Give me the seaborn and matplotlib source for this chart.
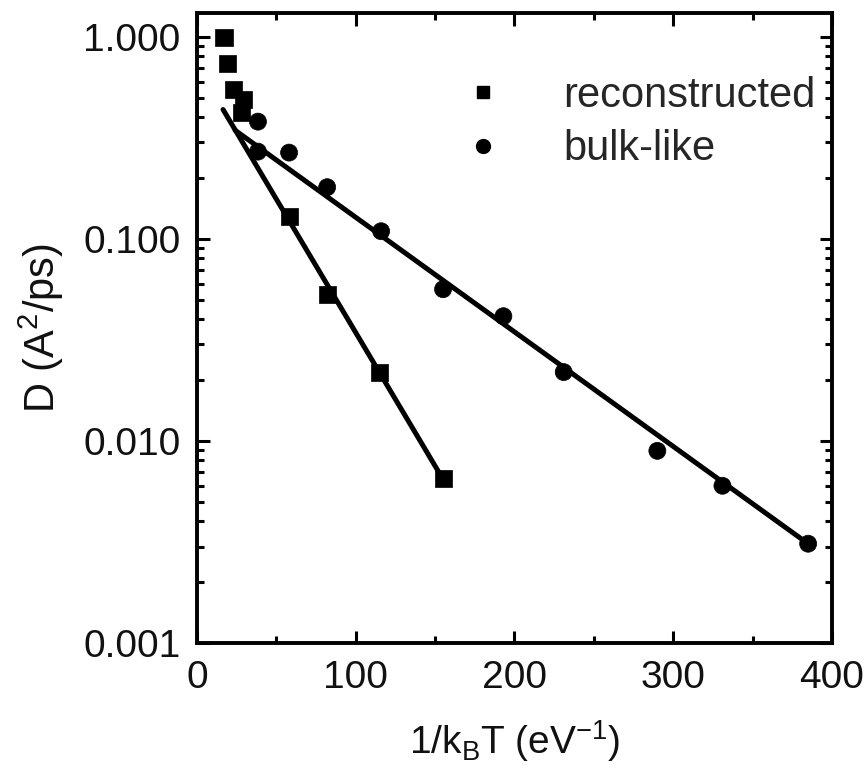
import numpy as np
import pandas as pd
import matplotlib
matplotlib.use("Agg")
import matplotlib.pyplot as plt
import matplotlib.ticker as mticker
import seaborn as sns

# Diffusion coefficients versus inverse temperature
recon_x = [17.0, 19.5, 22.7, 29.0, 28.3, 58.0, 82.5, 115.0, 155.0]
recon_D = [0.99, 0.735, 0.547, 0.49, 0.42, 0.129, 0.0532, 0.0219, 0.00649]

bulk_x = [38.4, 38.4, 58.0, 82.0, 116.0, 155.0, 193.0, 231.0, 290.0, 331.0, 385.0]
bulk_D = [0.38, 0.27, 0.267, 0.18, 0.109, 0.0563, 0.0414, 0.0219, 0.00893, 0.0060, 0.0031]

# Arrhenius fits: D = D0 * exp(-Ea / kT), with x = 1/kT
recon_fit_D0, recon_fit_Ea, recon_fit_range = 0.718, 0.0304, (16.4, 155.0)
bulk_fit_D0, bulk_fit_Ea, bulk_fit_range = 0.471, 0.01305, (24.0, 385.0)

series_names = ["reconstructed", "bulk-like"]

sns.set_theme(style="ticks")
plt.rcParams["font.family"] = ["Liberation Sans", "DejaVu Sans"]
plt.rcParams["mathtext.default"] = "regular"

fig = plt.figure(figsize=(8.66, 7.78), dpi=100)
ax = fig.add_axes([0.2275, 0.1735, 0.7332, 0.8098])

pts = pd.DataFrame({
    "x": recon_x + bulk_x,
    "D": recon_D + bulk_D,
    "kind": [series_names[0]] * len(recon_x) + [series_names[1]] * len(bulk_x),
})


def fit_curve(D0, Ea, rng):
    xs = np.linspace(rng[0], rng[1], 50)
    return pd.DataFrame({"x": xs, "D": D0 * np.exp(-Ea * xs)})


for D0, Ea, rng in [(recon_fit_D0, recon_fit_Ea, recon_fit_range),
                    (bulk_fit_D0, bulk_fit_Ea, bulk_fit_range)]:
    sns.lineplot(data=fit_curve(D0, Ea, rng), x="x", y="D", ax=ax,
                 color="black", linewidth=3.6, legend=False)

sns.scatterplot(data=pts, x="x", y="D", style="kind",
                markers={series_names[0]: "s", series_names[1]: "o"},
                color="black", s=150, edgecolor="black", linewidth=0.5,
                ax=ax, legend=False, zorder=5)

ax.set_yscale("log")
ax.set_xlim(0, 400)
ax.set_ylim(0.001, 1.31)

ax.xaxis.set_major_locator(mticker.MultipleLocator(100))
ax.xaxis.set_minor_locator(mticker.MultipleLocator(50))
ax.yaxis.set_major_locator(mticker.FixedLocator([0.001, 0.01, 0.1, 1.0]))
ax.yaxis.set_minor_locator(mticker.LogLocator(base=10, subs=np.arange(2, 10)))
ax.yaxis.set_major_formatter(mticker.FuncFormatter(lambda v, p: f"{v:.3f}"))
ax.yaxis.set_minor_formatter(mticker.NullFormatter())

ax.tick_params(which="both", direction="in", top=True, right=True,
               width=2.2, color="black", labelsize=28, labelcolor="#111111")
ax.tick_params(which="major", length=9, pad=12)
ax.tick_params(which="minor", length=5)
for sp in ax.spines.values():
    sp.set_linewidth(2.8)
    sp.set_color("black")

ax.set_xlabel("1/k$_B$T (eV$^{-1}$)", fontsize=28, labelpad=16, color="#111111")
ax.set_ylabel("D (A$^2$/ps)", fontsize=30, labelpad=12, color="#111111")

handles = [
    plt.Line2D([], [], linestyle="none", marker="s", color="black", markersize=9),
    plt.Line2D([], [], linestyle="none", marker="o", color="black", markersize=10),
]
ax.legend(handles, series_names, loc="upper right", frameon=False,
          fontsize=30, handlelength=1.0, handletextpad=1.42, labelspacing=0.33,
          borderaxespad=0.0, bbox_to_anchor=(1.0, 0.927))

fig.savefig("out.png", dpi=100)
